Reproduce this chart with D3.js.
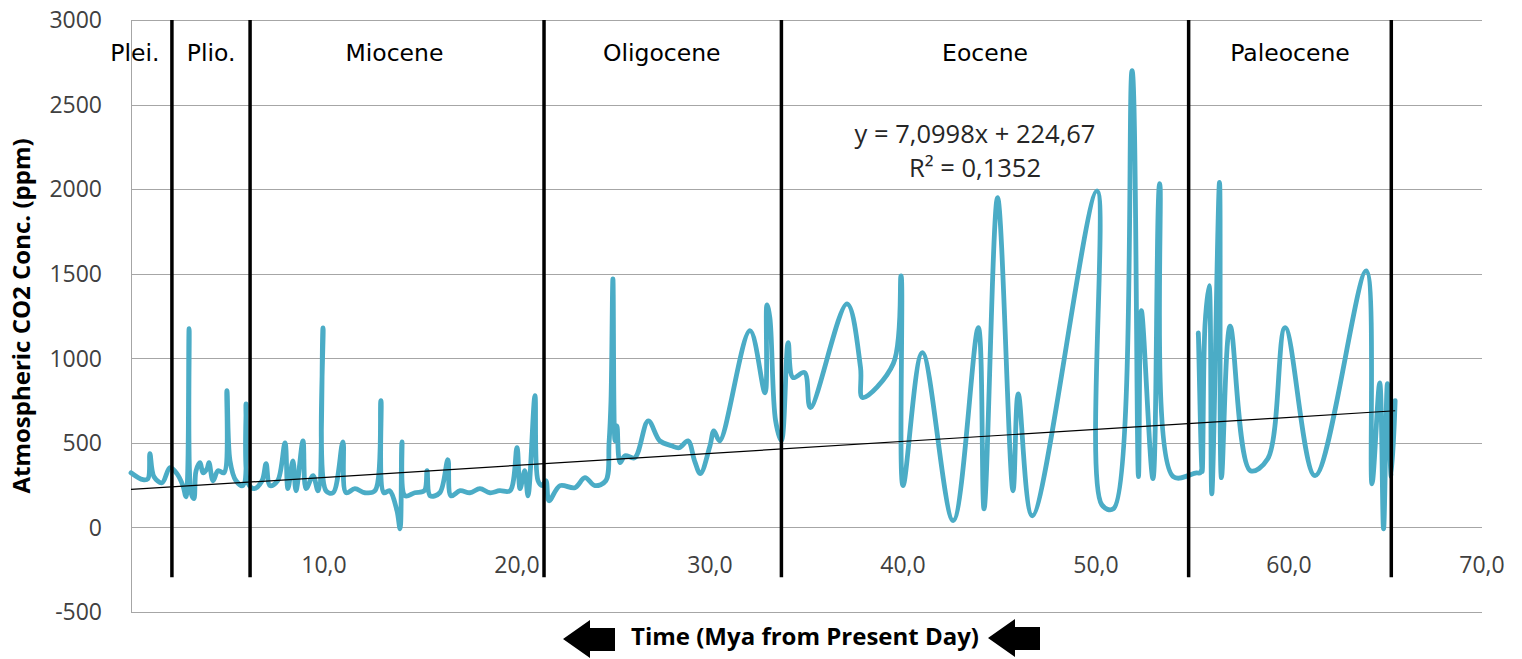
<!DOCTYPE html>
<html lang="en">
<head>
<meta charset="UTF-8">
<title>Atmospheric CO2 over the Cenozoic</title>
<script src="https://d3js.org/d3.v7.min.js"></script>
<style>
  body { margin: 0; background: #fff; }
  svg { display: block; }
  .tick-label { font-family: "Open Sans", sans-serif; font-size: 23px; fill: #404040; }
  .axis-title { font-family: "Open Sans", sans-serif; font-size: 24px; font-weight: bold; fill: #000; }
  .epoch { font-family: "DejaVu Sans", sans-serif; font-size: 23.5px; fill: #000; }
  .eq { font-family: "Open Sans", sans-serif; font-size: 25.5px; fill: #262626; }
</style>
</head>
<body>
<svg id="chart" width="1522" height="659"></svg>
<script>
// time in Mya and CO2 in ppm
const mya = [
  0.00, 0.62, 0.88, 0.98, 1.19, 1.61, 2.02, 2.38, 2.69, 2.85, 3.01, 3.11, 3.26, 3.37, 3.58, 3.73,
  3.94, 4.04, 4.25, 4.51, 4.82, 4.97, 5.13, 5.44, 5.80, 5.96, 6.06, 6.37,
  6.79, 7.00, 7.20, 7.60, 7.98, 8.13, 8.39, 8.55, 8.91, 9.07, 9.43, 9.69, 9.95, 10.10, 10.47,
  10.98, 11.14, 11.60, 12.12, 12.64, 12.95, 13.10, 13.40, 13.78, 13.94, 14.04, 14.20, 14.70,
  15.20, 15.34, 15.50, 16.00, 16.42, 16.58, 17.05, 17.56, 18.08, 18.60, 19.10, 19.64, 20.00,
  20.16, 20.40, 20.57, 20.93, 21.09, 21.30,
  21.50, 21.66, 22.23, 23.00, 23.52, 24.04, 24.60, 24.77, 24.87, 24.97, 25.08, 25.18, 25.34,
  25.60, 26.10, 26.80, 27.40, 28.00, 28.40, 28.86, 29.20, 29.50, 30.00, 30.20, 30.50, 32.07,
  32.85, 32.95, 33.10, 33.40, 33.70,
  34.05, 34.30, 34.90, 35.20, 37.10, 37.80, 37.90, 39.50, 39.90, 40.00, 41.00, 42.60, 43.90,
  44.20, 44.90, 45.70, 45.97, 46.70, 50.05, 50.30, 50.90, 51.87, 52.20, 52.35, 52.95, 53.30,
  54.00, 55.20,
  55.40, 55.30, 55.50, 55.65, 55.86, 56.00, 56.40, 56.50, 56.95, 58.00, 58.90, 59.80, 61.35,
  64.00, 64.30, 64.70, 64.90, 65.10, 65.30, 65.50
];
const co2 = [
  323, 282, 288, 436, 300, 264, 353, 318, 247, 181, 1175, 205, 170, 335, 383, 323,
  347, 383, 276, 335, 323, 808, 394, 276, 247, 731, 264, 229,
  276, 377, 247, 276, 500, 229, 394, 217, 512, 229, 306, 217, 1180, 217, 205,
  506, 205, 229, 205, 217, 749, 205, 217, 99, -8, 506, 187, 205,
  217, 335, 187, 205, 400, 187, 217, 205, 229, 205, 217, 217, 471,
  229, 335, 187, 779, 276, 247,
  276, 158, 247, 235, 294, 247, 276, 500, 749, 1470, 512, 600, 383,
  424, 412, 630, 512, 483, 471, 512, 394, 318, 483, 571, 512, 1163,
  796, 1316, 1240, 630, 512,
  1093, 886, 916, 709, 1322, 945, 768, 969, 1487, 247, 1034, 40, 1181,
  110, 1950, 217, 790, 69, 1990, 134, 110, 2700, 300, 1282, 288, 2032,
  300, 323,
  323, 1150, 330, 1200, 1430, 199, 2040, 294, 1190, 335, 406, 1181, 306,
  1517, 258, 855, -8, 850, 300, 750
];
const yTicks = [-500, 0, 500, 1000, 1500, 2000, 2500, 3000];
const xTicks = [10, 20, 30, 40, 50, 60, 70];
// epoch boundaries (Mya) and names
const bounds = [2.12, 6.17, 21.4, 33.7, 54.8, 65.3];
const epochs = ["Plei.", "Plio.", "Miocene", "Oligocene", "Eocene", "Paleocene"];
const epochMid = [0.2, 4.15, 13.65, 27.5, 44.25, 60.05];
// linear trend as printed on the chart
const slope = 7.0998, intercept = 224.67, trendEnd = 65.5;

const svg = d3.select("#chart");
const x = d3.scaleLinear().domain([0, 70]).range([131, 1482]);
const y = d3.scaleLinear().domain([-500, 3000]).range([612, 20]);

// horizontal gridlines
svg.append("g")
  .selectAll("line")
  .data(yTicks)
  .join("line")
  .attr("x1", x(0)).attr("x2", x(70))
  .attr("y1", d => Math.round(y(d)) + 0.5).attr("y2", d => Math.round(y(d)) + 0.5)
  .attr("stroke", "#a6a6a6").attr("stroke-width", 1);

// left border of the plot area
svg.append("line")
  .attr("x1", x(0) + 0.5).attr("x2", x(0) + 0.5)
  .attr("y1", y(3000)).attr("y2", y(-500))
  .attr("stroke", "#a6a6a6");

// y tick labels
svg.append("g")
  .selectAll("text")
  .data(yTicks)
  .join("text")
  .attr("class", "tick-label")
  .attr("x", 102).attr("y", d => y(d))
  .attr("dy", "0.36em")
  .attr("text-anchor", "end")
  .text(d => d);

// x tick labels
svg.append("g")
  .selectAll("text")
  .data(xTicks)
  .join("text")
  .attr("class", "tick-label")
  .attr("x", d => x(d)).attr("y", 573)
  .attr("text-anchor", "middle")
  .text(d => d.toFixed(1).replace(".", ","));

// CO2 series
const points = mya.map((m, i) => [m, co2[i]]);
svg.append("path")
  .datum(points)
  .attr("fill", "none")
  .attr("stroke", "#4bacc6")
  .attr("stroke-width", 4.8)
  .attr("stroke-linejoin", "round")
  .attr("stroke-linecap", "round")
  .attr("d", d3.line().x(d => x(d[0])).y(d => y(d[1])).curve(d3.curveCatmullRom.alpha(0.5)));

// trendline
svg.append("line")
  .attr("x1", x(0)).attr("y1", y(intercept))
  .attr("x2", x(trendEnd)).attr("y2", y(intercept + slope * trendEnd))
  .attr("stroke", "#000").attr("stroke-width", 1.2);

// epoch boundary lines
svg.append("g")
  .selectAll("line")
  .data(bounds)
  .join("line")
  .attr("x1", d => x(d)).attr("x2", d => x(d))
  .attr("y1", y(3000)).attr("y2", y(-295))
  .attr("stroke", "#000").attr("stroke-width", 3.5);

// epoch names
svg.append("g")
  .selectAll("text")
  .data(epochs)
  .join("text")
  .attr("class", "epoch")
  .attr("x", (d, i) => x(epochMid[i])).attr("y", 61)
  .attr("text-anchor", "middle")
  .text(d => d);

// trend equation
svg.append("text").attr("class", "eq")
  .attr("x", 975).attr("y", 143).attr("text-anchor", "middle")
  .text("y = 7,0998x + 224,67");
svg.append("text").attr("class", "eq")
  .attr("x", 975).attr("y", 177).attr("text-anchor", "middle")
  .text("R\u00b2 = 0,1352");

// axis titles
svg.append("text").attr("class", "axis-title")
  .attr("transform", "translate(30,316) rotate(-90)")
  .attr("text-anchor", "middle")
  .text("Atmospheric CO2 Conc. (ppm)");

svg.append("text").attr("class", "axis-title")
  .attr("x", 805).attr("y", 645)
  .attr("text-anchor", "middle")
  .text("Time (Mya from Present Day)");

// arrows on both sides of the x title, pointing toward the present
const arrow = "M0,0 L27,-19 L27,-11 L52,-11 L52,12 L27,12 L27,19 Z";
svg.append("path").attr("d", arrow).attr("transform", "translate(563,639)").attr("fill", "#000");
svg.append("path").attr("d", arrow).attr("transform", "translate(988,638)").attr("fill", "#000");
</script>
</body>
</html>
